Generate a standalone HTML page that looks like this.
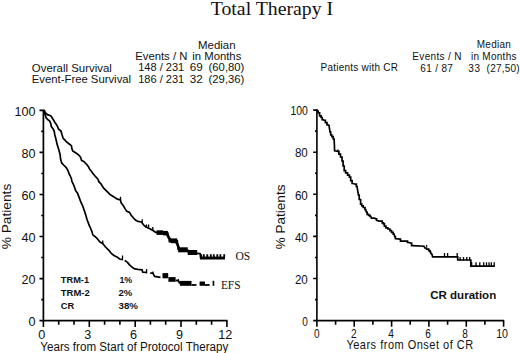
<!DOCTYPE html>
<html><head><meta charset="utf-8"><style>
html,body{margin:0;padding:0;background:#fff;}
body{width:520px;height:353px;overflow:hidden;}
svg{display:block;}
text{font-family:"Liberation Sans", sans-serif;fill:#111;}
</style></head><body>
<svg width="520" height="353" viewBox="0 0 520 353">
<rect width="520" height="353" fill="#fff"/>
<text x="210.8" y="14.8" font-size="19.5" textLength="122.3" lengthAdjust="spacingAndGlyphs" style='font-family:"Liberation Serif", serif'>Total Therapy I</text>
<text x="198.0" y="48.5" font-size="11" textLength="37.5" lengthAdjust="spacingAndGlyphs">Median</text>
<text x="135.3" y="59.8" font-size="11" textLength="52.0" lengthAdjust="spacingAndGlyphs">Events / N</text>
<text x="192.3" y="59.8" font-size="11" textLength="49.0" lengthAdjust="spacingAndGlyphs">in Months</text>
<text x="31.8" y="71.5" font-size="11" textLength="80.0" lengthAdjust="spacingAndGlyphs">Overall Survival</text>
<text x="138.2" y="71.3" font-size="11" textLength="46.0" lengthAdjust="spacingAndGlyphs">148 / 231</text>
<text x="189.8" y="71.3" font-size="11" textLength="13.0" lengthAdjust="spacingAndGlyphs">69</text>
<text x="208.6" y="71.3" font-size="11" textLength="35.7" lengthAdjust="spacingAndGlyphs">(60,80)</text>
<text x="31.8" y="83.4" font-size="11" textLength="99.3" lengthAdjust="spacingAndGlyphs">Event-Free Survival</text>
<text x="138.2" y="82.8" font-size="11" textLength="46.0" lengthAdjust="spacingAndGlyphs">186 / 231</text>
<text x="189.8" y="82.8" font-size="11" textLength="13.0" lengthAdjust="spacingAndGlyphs">32</text>
<text x="208.6" y="82.8" font-size="11" textLength="35.7" lengthAdjust="spacingAndGlyphs">(29,36)</text>
<text transform="translate(476.7,48.2) scale(0.86,1)" font-size="11.6" textLength="39.77" lengthAdjust="spacing">Median</text>
<text transform="translate(412.3,59.7) scale(0.86,1)" font-size="11.6" textLength="57.21" lengthAdjust="spacing">Events / N</text>
<text transform="translate(470.9,59.5) scale(0.86,1)" font-size="11.6" textLength="53.02" lengthAdjust="spacing">in Months</text>
<text transform="translate(320.6,71.0) scale(0.86,1)" font-size="11.6" textLength="90.00" lengthAdjust="spacing">Patients with CR</text>
<text transform="translate(420.3,71.5) scale(0.86,1)" font-size="11.6" textLength="37.91" lengthAdjust="spacing">61 / 87</text>
<text transform="translate(468.2,71.5) scale(0.86,1)" font-size="11.6" textLength="13.84" lengthAdjust="spacing">33</text>
<text transform="translate(486.6,71.5) scale(0.86,1)" font-size="11.6" textLength="38.37" lengthAdjust="spacing">(27,50)</text>
<path d="M43.4,109.7 L43.4,320.6 L227.5,320.6" fill="none" stroke="#000" stroke-width="1.7"/>
<path d="M39.5,320.6 L43.4,320.6 M41.2,299.6 L43.4,299.6 M39.5,278.6 L43.4,278.6 M41.2,257.5 L43.4,257.5 M39.5,236.5 L43.4,236.5 M41.2,215.5 L43.4,215.5 M39.5,194.5 L43.4,194.5 M41.2,173.5 L43.4,173.5 M39.5,152.4 L43.4,152.4 M41.2,131.4 L43.4,131.4 M39.5,110.4 L43.4,110.4 M43.4,320.6 L43.4,327.0 M58.7,320.6 L58.7,324.7 M74.0,320.6 L74.0,324.7 M89.3,320.6 L89.3,327.0 M104.6,320.6 L104.6,324.7 M119.9,320.6 L119.9,324.7 M135.2,320.6 L135.2,327.0 M150.4,320.6 L150.4,324.7 M165.7,320.6 L165.7,324.7 M181.0,320.6 L181.0,327.0 M196.3,320.6 L196.3,324.7 M211.6,320.6 L211.6,324.7 M226.9,320.6 L226.9,327.0 " fill="none" stroke="#000" stroke-width="1.6"/>
<text x="35.5" y="325.8" font-size="12.6" text-anchor="end">0</text>
<text x="35.5" y="283.8" font-size="12.6" text-anchor="end">20</text>
<text x="35.5" y="241.7" font-size="12.6" text-anchor="end">40</text>
<text x="35.5" y="199.7" font-size="12.6" text-anchor="end">60</text>
<text x="35.5" y="157.6" font-size="12.6" text-anchor="end">80</text>
<text x="35.5" y="115.6" font-size="12.6" text-anchor="end">100</text>
<text x="41.8" y="338.9" font-size="12.6" text-anchor="middle">0</text>
<text x="87.7" y="338.9" font-size="12.6" text-anchor="middle">3</text>
<text x="133.6" y="338.9" font-size="12.6" text-anchor="middle">6</text>
<text x="179.4" y="338.9" font-size="12.6" text-anchor="middle">9</text>
<text x="225.3" y="338.9" font-size="12.6" text-anchor="middle">12</text>
<text x="40.3" y="350.7" font-size="12.3" textLength="188.0" lengthAdjust="spacingAndGlyphs">Years from Start of Protocol Therapy</text>
<text transform="translate(11.4,216.5) rotate(-90)" font-size="12.5" text-anchor="middle" textLength="65.5" lengthAdjust="spacingAndGlyphs">% Patients</text>
<path d="M316.9,109.39999999999999 L316.9,320.6 L504.20000000000005,320.6" fill="none" stroke="#000" stroke-width="1.6"/>
<path d="M313.2,320.6 L316.9,320.6 M315.0,299.6 L316.9,299.6 M313.2,278.5 L316.9,278.5 M315.0,257.5 L316.9,257.5 M313.2,236.4 L316.9,236.4 M315.0,215.4 L316.9,215.4 M313.2,194.3 L316.9,194.3 M315.0,173.2 L316.9,173.2 M313.2,152.2 L316.9,152.2 M315.0,131.1 L316.9,131.1 M313.2,110.1 L316.9,110.1 M316.9,320.6 L316.9,326.8 M335.6,320.6 L335.6,324.7 M354.2,320.6 L354.2,326.8 M372.9,320.6 L372.9,324.7 M391.6,320.6 L391.6,326.8 M410.2,320.6 L410.2,324.7 M428.9,320.6 L428.9,326.8 M447.6,320.6 L447.6,324.7 M466.3,320.6 L466.3,326.8 M484.9,320.6 L484.9,324.7 M503.6,320.6 L503.6,326.8 " fill="none" stroke="#000" stroke-width="1.6"/>
<text x="307.8" y="325.8" font-size="12.5" text-anchor="end" textLength="5.6" lengthAdjust="spacingAndGlyphs">0</text>
<text x="307.8" y="283.7" font-size="12.5" text-anchor="end" textLength="12.9" lengthAdjust="spacingAndGlyphs">20</text>
<text x="307.8" y="241.6" font-size="12.5" text-anchor="end" textLength="12.9" lengthAdjust="spacingAndGlyphs">40</text>
<text x="307.8" y="199.5" font-size="12.5" text-anchor="end" textLength="12.9" lengthAdjust="spacingAndGlyphs">60</text>
<text x="307.8" y="157.4" font-size="12.5" text-anchor="end" textLength="12.9" lengthAdjust="spacingAndGlyphs">80</text>
<text x="307.8" y="115.3" font-size="12.5" text-anchor="end" textLength="17.4" lengthAdjust="spacingAndGlyphs">100</text>
<text x="316.9" y="338.3" font-size="12.5" text-anchor="middle" textLength="5.6" lengthAdjust="spacingAndGlyphs">0</text>
<text x="353.9" y="338.3" font-size="12.5" text-anchor="middle" textLength="5.6" lengthAdjust="spacingAndGlyphs">2</text>
<text x="391.0" y="338.3" font-size="12.5" text-anchor="middle" textLength="5.6" lengthAdjust="spacingAndGlyphs">4</text>
<text x="428.0" y="338.3" font-size="12.5" text-anchor="middle" textLength="5.6" lengthAdjust="spacingAndGlyphs">6</text>
<text x="465.1" y="338.3" font-size="12.5" text-anchor="middle" textLength="5.6" lengthAdjust="spacingAndGlyphs">8</text>
<text x="502.1" y="338.3" font-size="12.5" text-anchor="middle" textLength="11.8" lengthAdjust="spacingAndGlyphs">10</text>
<text transform="translate(346.4,348.9) scale(0.86,1)" font-size="12.8" textLength="147.44" lengthAdjust="spacing">Years from Onset of CR</text>
<text transform="translate(285.3,216.9) rotate(-90)" font-size="13.2" text-anchor="middle" textLength="64.6" lengthAdjust="spacingAndGlyphs">% Patients</text>
<text x="60.8" y="283.0" font-size="9.7" textLength="28.3" lengthAdjust="spacingAndGlyphs" font-weight="bold">TRM-1</text>
<text x="60.8" y="296.0" font-size="9.7" textLength="29.0" lengthAdjust="spacingAndGlyphs" font-weight="bold">TRM-2</text>
<text x="60.8" y="308.7" font-size="9.7" textLength="13.4" lengthAdjust="spacingAndGlyphs" font-weight="bold">CR</text>
<text x="119.4" y="283.0" font-size="9.7" textLength="12.8" lengthAdjust="spacingAndGlyphs" font-weight="bold">1%</text>
<text x="118.5" y="296.0" font-size="9.7" textLength="13.8" lengthAdjust="spacingAndGlyphs" font-weight="bold">2%</text>
<text x="118.5" y="308.7" font-size="9.7" textLength="19.4" lengthAdjust="spacingAndGlyphs" font-weight="bold">38%</text>
<text x="430.2" y="299.1" font-size="11.6" textLength="66.0" lengthAdjust="spacingAndGlyphs" font-weight="bold">CR duration</text>
<text x="235.4" y="259.9" font-size="11.6" textLength="14.8" lengthAdjust="spacingAndGlyphs" style='font-family:"Liberation Serif", serif'>OS</text>
<text x="220.9" y="288.7" font-size="11.6" textLength="19.6" lengthAdjust="spacingAndGlyphs" style='font-family:"Liberation Serif", serif'>EFS</text>
<path d="M43.4,110.4 L44.3,110.4 L45.4,112.9 L47.4,114.6 L50.8,115.8 L51.9,117.5 L54.7,122.0 L57.0,125.4 L58.7,129.3 L61.0,131.0 L62.1,135.0 L63.2,138.4 L65.5,140.7 L66.3,141.7 L69.2,144.0 L71.4,145.7 L72.0,149.1 L73.1,151.3 L76.0,153.0 L78.2,154.7 L80.5,157.0 L81.6,160.4 L83.9,161.5 L86.1,163.8 L88.4,166.6 L89.5,168.9 L91.2,171.1 L92.4,172.8 L95.6,176.7 L97.8,179.0 L99.0,181.8 L101.2,184.1 L102.4,186.3 L103.4,187.8 L106.2,190.7 L109.7,194.2 L114.0,197.0 L117.5,199.2 L120.4,199.9 L121.1,202.7 L123.2,205.5 L125.3,209.1 L126.7,211.2 L129.5,212.4 L131.2,215.2 L133.5,218.0 L135.8,220.3 L138.0,221.4 L141.4,222.0 L143.5,224.8 L146.0,227.0 L150.3,229.1 L153.0,230.5 L155.5,232.3 L167.6,232.4 L168.8,237.6 L169.5,240.5 L177.3,240.5 L178.1,249.5 L187.9,250.0 L188.5,252.4 L196.9,253.3 L200.2,253.6 L200.6,258.0 L225.0,258.0" fill="none" stroke="#000" stroke-width="1.7" stroke-linejoin="round" stroke-linecap="butt"/>
<path d="M43.4,110.4 L45.1,114.6 L46.2,118.0 L47.9,119.7 L49.6,120.9 L50.8,123.7 L51.3,126.5 L53.0,128.8 L54.2,131.0 L54.7,134.4 L55.9,139.0 L57.3,145.1 L59.0,150.2 L60.1,154.7 L60.7,159.8 L61.8,163.2 L64.1,165.5 L66.3,167.7 L68.0,170.6 L69.2,174.0 L70.3,176.2 L71.4,178.5 L71.8,181.2 L73.5,184.6 L74.6,187.5 L75.8,190.9 L77.5,193.1 L79.2,197.6 L80.9,202.2 L82.8,206.2 L85.0,212.6 L87.1,219.7 L89.2,225.4 L90.7,228.5 L92.1,232.1 L92.8,234.9 L95.6,237.0 L97.7,239.2 L99.9,242.0 L102.7,243.4 L105.5,247.0 L108.4,249.8 L111.2,253.3 L114.0,255.5 L116.9,256.9 L119.7,259.0 L122.5,259.7" fill="none" stroke="#000" stroke-width="1.7" stroke-linejoin="round" stroke-linecap="butt"/>
<path d="M124.6,260.6 L125.5,260.9 L127.5,262.4 L129.5,264.9 L132.4,267.4 L134.9,268.9 L137.9,269.4 L142.2,269.9 L142.6,272.2 L146.8,272.4" fill="none" stroke="#000" stroke-width="1.7" stroke-linejoin="round" stroke-linecap="butt"/>
<path d="M150.2,273.1 L152.9,273.1 L154.5,276.3 L160.5,277.3" fill="none" stroke="#000" stroke-width="1.7" stroke-linejoin="round" stroke-linecap="butt"/>
<path d="M316.5,110.1 L317.1,110.1 L317.1,111.2 L317.7,111.2 L318.2,111.2 L318.2,112.9 L318.8,112.9 L319.6,112.9 L319.6,115.8 L320.5,115.8 L321.1,115.8 L321.1,117.5 L321.6,117.5 L322.2,117.5 L322.2,119.7 L322.8,119.7 L324.5,120.3 L325.4,120.3 L325.4,122.6 L326.2,122.6 L327.0,122.6 L327.0,124.8 L327.9,124.8 L329.0,125.4 L329.6,129.3 L330.1,132.2 L330.7,132.2 L330.7,135.0 L331.3,135.0 L331.9,135.0 L331.9,136.7 L332.4,136.7 L333.2,136.7 L333.2,139.0 L334.1,139.0 L334.4,145.0 L334.6,150.8 L338.0,151.3 L338.9,151.3 L338.9,154.2 L339.7,154.2 L340.5,154.2 L340.5,157.0 L341.4,157.0 L342.0,157.0 L342.0,161.0 L342.6,161.0 L343.1,161.0 L343.1,166.0 L343.7,166.0 L344.2,166.0 L344.2,170.6 L344.8,170.6 L345.6,170.6 L345.6,172.8 L346.5,172.8 L347.6,172.8 L347.6,175.1 L348.8,175.1 L349.4,175.1 L349.4,177.1 L350.0,177.1 L350.7,177.1 L350.7,180.7 L351.4,180.7 L352.1,180.7 L352.1,183.5 L352.8,183.5 L355.6,184.2 L356.3,184.2 L356.3,186.3 L357.0,186.3 L357.7,190.6 L358.4,195.0 L359.2,195.0 L359.2,199.5 L360.1,199.5 L360.6,199.5 L360.6,204.1 L361.2,204.1 L361.8,204.1 L361.8,205.8 L362.4,205.8 L363.2,205.8 L363.2,207.5 L364.1,207.5 L365.0,207.5 L365.0,209.7 L365.8,209.7 L366.3,212.0 L367.1,212.0 L367.1,214.3 L368.0,214.3 L368.6,214.3 L368.6,215.4 L369.2,215.4 L370.0,215.4 L370.0,216.5 L370.9,216.5 L371.4,218.2 L374.3,218.2 L376.0,218.8 L376.6,218.8 L376.6,220.5 L377.1,220.5 L379.4,221.1 L381.6,221.1 L382.2,221.1 L382.2,222.8 L382.8,222.8 L383.4,222.8 L383.4,223.9 L383.9,223.9 L384.4,223.9 L384.4,226.2 L385.0,226.2 L385.9,226.2 L385.9,227.9 L386.7,227.9 L387.9,227.9 L387.9,229.0 L389.0,229.0 L389.9,229.0 L389.9,230.7 L390.7,230.7 L391.5,230.7 L391.5,232.4 L392.4,232.4 L393.2,232.4 L393.2,234.1 L394.1,234.1 L394.7,236.7 L395.4,236.7 L395.4,238.6 L396.0,238.6 L399.8,239.2 L400.5,239.2 L400.5,241.1 L401.1,241.1 L406.8,241.1 L407.5,241.1 L407.5,242.4 L408.1,242.4 L410.7,243.0 L411.6,243.0 L411.6,245.6 L412.6,245.6 L424.0,246.2 L424.8,248.0 L426.5,248.0 L426.5,249.2 L428.2,249.2 L428.7,249.2 L428.7,250.6 L429.2,250.6 L429.9,250.6 L429.9,251.6 L430.5,251.6 L430.9,253.4 L432.0,254.2 L432.6,256.9 L457.7,256.9 L457.7,260.0 L470.8,260.0 L470.8,266.1 L494.7,266.1" fill="none" stroke="#000" stroke-width="1.7" stroke-linejoin="miter" stroke-miterlimit="2" stroke-linecap="butt"/>
<rect x="156.5" y="230.3" width="6.50" height="4.60" fill="#000"/>
<rect x="163.0" y="230.9" width="4.70" height="4.50" fill="#000"/>
<path d="M167.0,234.2 L169.3,238.6" fill="none" stroke="#000" stroke-width="2.6" stroke-linejoin="round" stroke-linecap="butt"/>
<rect x="168.6" y="237.8" width="2.40" height="4.80" fill="#000"/>
<rect x="171.0" y="238.4" width="6.20" height="4.80" fill="#000"/>
<path d="M176.6,242.6 L178.9,248.0" fill="none" stroke="#000" stroke-width="2.6" stroke-linejoin="round" stroke-linecap="butt"/>
<rect x="178.1" y="247.3" width="9.60" height="5.00" fill="#000"/>
<rect x="187.7" y="250.0" width="9.50" height="5.00" fill="#000"/>
<rect x="200.0" y="256.6" width="25.00" height="2.90" fill="#000"/>
<path d="M201.2,257.0 L201.2,254.2 M203.8,257.0 L203.8,254.2 M207.3,257.0 L207.3,254.2 M210.8,257.0 L210.8,254.2 M213.8,257.0 L213.8,254.2 M217.3,257.0 L217.3,254.2 M220.4,257.0 L220.4,254.2 M224.2,257.0 L224.2,254.2" fill="none" stroke="#000" stroke-width="1.8"/>
<path d="M142.2,222.5 L142.2,219.3" fill="none" stroke="#000" stroke-width="1.3"/>
<path d="M120.5,200.5 L120.5,196.8" fill="none" stroke="#000" stroke-width="1.3"/>
<path d="M146.5,227.5 L146.5,224.4 M148.6,227.5 L148.6,224.4" fill="none" stroke="#000" stroke-width="1.3"/>
<path d="M152.8,230.0 L152.8,227.0" fill="none" stroke="#000" stroke-width="1.3"/>
<path d="M102.7,243.8 L102.7,240.6" fill="none" stroke="#000" stroke-width="1.3"/>
<path d="M122.5,260.2 L122.5,255.5" fill="none" stroke="#000" stroke-width="1.3"/>
<path d="M146.6,273.4 L146.6,269.1" fill="none" stroke="#000" stroke-width="1.3"/>
<path d="M152.9,273.9 L152.9,271.5" fill="none" stroke="#000" stroke-width="1.3"/>
<rect x="162.5" y="273.1" width="5.70" height="5.20" fill="#000"/>
<rect x="168.4" y="277.1" width="7.20" height="4.70" fill="#000"/>
<path d="M175.6,280.5 L178.3,280.7 L179.9,283.5" fill="none" stroke="#000" stroke-width="1.8" stroke-linejoin="round" stroke-linecap="butt"/>
<path d="M178.3,281.2 L178.3,279.1" fill="none" stroke="#000" stroke-width="1.3"/>
<rect x="179.9" y="280.9" width="11.60" height="4.90" fill="#000"/>
<rect x="191.5" y="284.1" width="5.00" height="1.80" fill="#000"/>
<rect x="199.6" y="281.5" width="5.40" height="4.30" fill="#000"/>
<rect x="205.0" y="284.1" width="4.60" height="1.80" fill="#000"/>
<rect x="212.6" y="280.8" width="1.70" height="5.00" fill="#000"/>
<path d="M338,151.6 L338,149.6" fill="none" stroke="#000" stroke-width="1.3"/>
<path d="M426.6,246.8 L426.6,244.9" fill="none" stroke="#000" stroke-width="1.3"/>
<path d="M444.5,257.2 L444.5,253.1 M447.6,257.2 L447.6,253.1 M457.2,257.2 L457.2,253.1" fill="none" stroke="#000" stroke-width="1.3"/>
<path d="M460.1,260.4 L460.1,257.0 M463.5,260.4 L463.5,257.0 M466.8,260.4 L466.8,257.0 M469.7,260.4 L469.7,257.0" fill="none" stroke="#000" stroke-width="1.3"/>
<path d="M471.6,266.6 L471.6,262.3 M476.0,266.6 L476.0,262.3 M479.8,266.6 L479.8,262.3 M483.7,266.6 L483.7,262.3 M486.5,266.6 L486.5,262.3 M489.0,266.6 L489.0,262.3 M491.3,266.6 L491.3,262.3 M494.2,266.6 L494.2,262.3" fill="none" stroke="#000" stroke-width="1.3"/>
</svg>
</body></html>
